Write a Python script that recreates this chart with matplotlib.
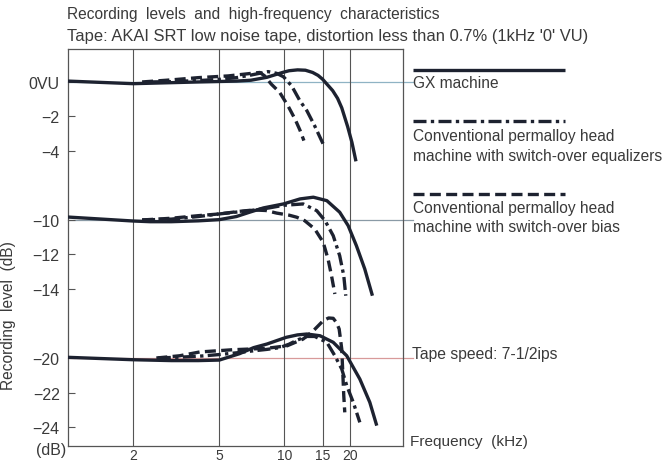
import matplotlib
matplotlib.use("Agg")
import matplotlib.pyplot as plt
from matplotlib.lines import Line2D

plt.rcParams['font.family'] = ['Liberation Sans', 'DejaVu Sans']

# frequency (kHz) / recording level (dB)
# section 1: 0VU
gx_f1 = [1, 2, 4, 6, 7, 8.3, 9.8, 10.5, 11.5, 12.5, 13.5, 14.3, 15, 16.7, 17.6, 18.4, 19.6, 20.5, 21.4]
gx_v1 = [0.05, -0.1, 0.0, 0.05, 0.1, 0.27, 0.55, 0.65, 0.7, 0.68, 0.55, 0.38, 0.16, -0.5, -0.95, -1.5, -2.6, -3.5, -4.6]
eq_f1 = [2.4, 3, 4, 5, 6, 7, 8.4, 9.2, 9.9, 10.8, 11.8, 12.7, 13.8, 15.1]
eq_v1 = [0.0, 0.02, 0.08, 0.15, 0.25, 0.4, 0.6, 0.5, 0.3, -0.23, -1.1, -1.67, -2.55, -3.6]
bias_f1 = [2.2, 3, 4, 5.5, 6.5, 7.3, 7.7, 8.1, 8.7, 9.5, 10.4, 11.2, 11.8, 12.3]
bias_v1 = [0.0, 0.12, 0.25, 0.35, 0.45, 0.52, 0.55, 0.35, -0.13, -0.6, -1.4, -2.16, -2.8, -3.4]

# section 2: -10 dB
gx_f2 = [1, 2, 2.4, 3, 4, 5, 6, 6.9, 8, 9.9, 11.8, 13.6, 15.7, 18, 19.7, 21.5, 23.5, 25.5]
gx_v2 = [-9.83, -10.06, -10.1, -10.1, -10.05, -9.98, -9.8, -9.55, -9.3, -9.07, -8.78, -8.68, -8.88, -9.55, -10.33, -11.49, -12.84, -14.39]
eq_f2 = [2.2, 3, 4, 5, 6.9, 8.5, 9.9, 12.2, 14.1, 15.4, 16.8, 18, 18.8, 19.2]
eq_v2 = [-10.0, -9.95, -9.8, -9.65, -9.46, -9.3, -9.15, -9.07, -9.46, -10.04, -10.91, -12.07, -13.23, -14.39]
bias_f2 = [2.2, 3, 4, 5, 6.2, 7.2, 8.2, 9.2, 10.5, 11.4, 12.4, 13.8, 15.1, 15.9, 16.5, 17.1]
bias_v2 = [-10.0, -9.9, -9.75, -9.65, -9.5, -9.42, -9.45, -9.6, -9.72, -9.84, -10.04, -10.52, -11.29, -12.26, -13.23, -14.29]

# section 3: -20 dB
gx_f3 = [1, 2, 3, 4, 5, 6.2, 7.2, 8.3, 10.2, 11.5, 12.7, 14.6, 16.8, 19.4, 22.3, 24.8, 26.7]
gx_v3 = [-19.96, -20.1, -20.15, -20.15, -20.12, -19.75, -19.4, -19.19, -18.8, -18.66, -18.61, -18.71, -19.09, -19.87, -21.22, -22.57, -23.92]
eq_f3 = [2.6, 3.3, 4, 5, 6, 7, 8.3, 9.5, 10.5, 11.5, 12.7, 13.8, 15.7, 17.1, 18.4, 19.4, 20.8, 22.3]
eq_v3 = [-20.0, -19.95, -19.9, -19.8, -19.7, -19.6, -19.5, -19.4, -19.2, -18.95, -18.75, -18.75, -19.09, -19.87, -20.64, -21.6, -22.57, -23.73]
bias_f3 = [2.56, 3.28, 4.06, 5.77, 8.26, 10.3, 12.2, 13.6, 15.1, 16.0, 16.8, 17.4, 17.9, 18.4, 18.6, 18.8, 19.0]
bias_v3 = [-20.0, -19.87, -19.65, -19.52, -19.44, -19.29, -18.9, -18.42, -17.84, -17.68, -17.7, -17.95, -18.32, -19.48, -20.83, -22.19, -23.15]

# the y axis is broken: each section is shifted up to close the gap
shifts = [0, 2, 4]
ref_levels = [0, -10, -20]
ytick_db = [[0, -2, -4], [-10, -12, -14], [-20, -22, -24]]
ytick_labels = ['0VU', '\u22122', '\u22124', '\u221210', '\u221212', '\u221214', '\u221220', '\u221222', '\u221224']
xticks = [2, 5, 10, 15, 20]

legend_labels = ['GX machine',
                 'Conventional permalloy head\nmachine with switch-over equalizers',
                 'Conventional permalloy head\nmachine with switch-over bias']

ink = '#1d2230'
txt = '#3a3a3a'
lw = 2.4
styles = ['-', (0, (3.9, 1.3, 1.0, 1.3)), (0, (3.3, 1.6))]

fig = plt.figure(figsize=(6.67, 4.64), dpi=100)
ax = fig.add_axes([68 / 667, 17 / 464, 335 / 667, 397 / 464])

series = [
    [(gx_f1, gx_v1), (gx_f2, gx_v2), (gx_f3, gx_v3)],
    [(eq_f1, eq_v1), (eq_f2, eq_v2), (eq_f3, eq_v3)],
    [(bias_f1, bias_v1), (bias_f2, bias_v2), (bias_f3, bias_v3)],
]
for k, secs in enumerate(series):
    for (f, v), s in zip(secs, shifts):
        ax.plot(f, [y + s for y in v], color=ink, lw=lw, ls=styles[k],
                solid_capstyle='butt', dash_capstyle='butt', zorder=3)

ref_colors = ['#8fb3c4', '#8a9aa6', '#d89a9a']
for lvl, s, c in zip(ref_levels, shifts, ref_colors):
    ax.axhline(lvl + s, xmin=0, xmax=1.03, color=c, lw=0.9, zorder=1, clip_on=False)

ax.set_xscale('log')
ax.set_xlim(1, 35.3)
ax.set_ylim(-21.1, 1.91)

ax.set_xticks(xticks)
ax.set_xticklabels([str(x) for x in xticks])
ax.xaxis.set_minor_locator(plt.NullLocator())
ax.tick_params(axis='x', length=0, pad=1.5, labelsize=10, labelcolor=txt)
ax.grid(axis='x', color='#555555', lw=0.8)

ypos = [d + s for row, s in zip(ytick_db, shifts) for d in row]
ax.set_yticks(ypos)
ax.set_yticklabels(ytick_labels)
ax.tick_params(axis='y', direction='in', length=5, width=0.8, color='#555555',
               pad=6, labelsize=11.5, labelcolor=txt)

for sp in ax.spines.values():
    sp.set_color('#555555')
    sp.set_linewidth(0.9)

ax.set_ylabel('Recording  level  (dB)', fontsize=11.2, color=txt)
ax.yaxis.set_label_coords(-0.155, 0.33)

fig.text(51 / 667, 1 - 451 / 464, '(dB)', ha='center', va='center', fontsize=11.5, color=txt)
fig.text(410 / 667, 1 - 442 / 464, 'Frequency  (kHz)', ha='left', va='center', fontsize=11.1, color=txt)
fig.text(412 / 667, 1 - 355 / 464, 'Tape speed: 7-1/2ips', ha='left', va='center', fontsize=11.3, color=txt)

fig.text(67 / 667, 1 - 15 / 464, 'Recording  levels  and  high-frequency  characteristics',
         ha='left', va='center', fontsize=11.2, color=txt)
fig.text(67 / 667, 1 - 36 / 464,
         "Tape: AKAI SRT low noise tape, distortion less than 0.7% (1kHz '0' VU)",
         ha='left', va='center', fontsize=11.9, color=txt)

# legend: sample line above each label
leg_line_y = [71, 122, 195]
leg_text_y = [84, 137, 209]
for k in range(3):
    yl = 1 - leg_line_y[k] / 464
    fig.add_artist(Line2D([413 / 667, 565 / 667], [yl, yl], transform=fig.transFigure,
                          color=ink, lw=lw, ls=styles[k], solid_capstyle='butt',
                          dash_capstyle='butt'))
    for j, line in enumerate(legend_labels[k].split('\n')):
        fig.text(413 / 667, 1 - (leg_text_y[k] + j * 19) / 464, line, ha='left', va='center',
                 fontsize=11.2, color=txt)

fig.savefig('out.png', dpi=100)
